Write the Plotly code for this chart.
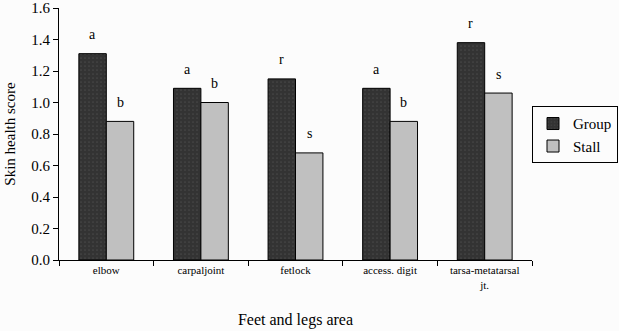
import plotly.graph_objects as go

categories = ["elbow", "carpaljoint", "fetlock", "access. digit", "tarsa-metatarsal<br>jt."]
group_vals = [1.31, 1.09, 1.15, 1.09, 1.38]
stall_vals = [0.88, 1.00, 0.68, 0.88, 1.06]
group_letters = ["a", "a", "r", "a", "r"]
stall_letters = ["b", "b", "s", "b", "s"]

FONT = "Liberation Serif"

fig = go.Figure()
fig.add_trace(go.Bar(
    name="Group", x=categories, y=group_vals,
    marker=dict(color="#333333", line=dict(color="black", width=1),
                pattern=dict(shape=".", fgcolor="#5a5a5a", size=4, solidity=0.15)),
))
fig.add_trace(go.Bar(
    name="Stall", x=categories, y=stall_vals,
    marker=dict(color="#c0c0c0", line=dict(color="black", width=1)),
))

for i, c in enumerate(categories):
    fig.add_annotation(x=c, y=group_vals[i], text=group_letters[i], showarrow=False,
                       xref="x", yref="y", xshift=-13.75, yshift=19,
                       font=dict(family=FONT, size=14, color="black"))
    fig.add_annotation(x=c, y=stall_vals[i], text=stall_letters[i], showarrow=False,
                       xref="x", yref="y", xshift=13.75, yshift=19,
                       font=dict(family=FONT, size=14, color="black"))

fig.update_layout(
    width=619, height=331,
    margin=dict(l=59, r=87, t=8, b=71, autoexpand=False),
    paper_bgcolor="#fcfcfc", plot_bgcolor="#fcfcfc",
    barmode="group", bargap=0.42, bargroupgap=0,
    font=dict(family=FONT, color="black"),
    legend=dict(x=1.0, y=0.61, xanchor="left", yanchor="top",
                bordercolor="black", borderwidth=1, bgcolor="#fcfcfc",
                font=dict(family=FONT, size=15), tracegroupgap=4,
                itemwidth=30),
    xaxis=dict(showline=True, linecolor="black", linewidth=1,
               ticks="outside", tickson="boundaries", ticklen=5, tickcolor="black",
               tickfont=dict(family=FONT, size=11),
               title=dict(text="Feet and legs area", font=dict(family=FONT, size=16), standoff=24)),
    yaxis=dict(range=[0, 1.6], dtick=0.2, tickformat=".1f",
               showline=True, linecolor="black", linewidth=1,
               ticks="outside", ticklen=5, tickcolor="black", showgrid=False, zeroline=False,
               tickfont=dict(family=FONT, size=15),
               title=dict(text="Skin health score", font=dict(family=FONT, size=15), standoff=12)),
)

fig.write_html("out.html")
